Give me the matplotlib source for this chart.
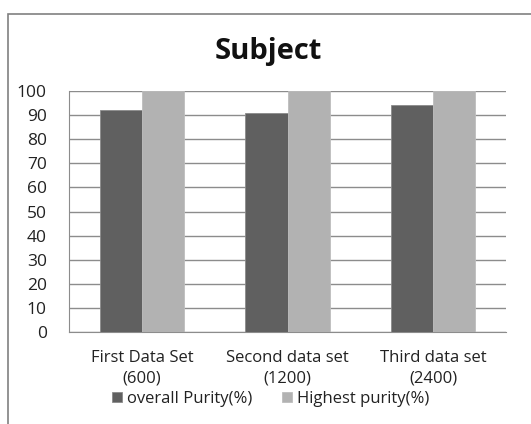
import matplotlib.pyplot as plt
import numpy as np
from matplotlib.patches import Rectangle

# Data
categories = ['First Data Set\n(600)', 'Second data set\n(1200)', 'Third data set\n(2400)']
overall_purity = [92, 91, 94]
highest_purity = [100, 100, 100]
series_names = ['overall Purity(%)', 'Highest purity(%)']

plt.rcParams['font.family'] = ['Open Sans', 'DejaVu Sans']

fig = plt.figure(figsize=(5.31, 4.24), dpi=100)
# outer chart frame (cropped on right and bottom like the reference)
fig.patches.append(Rectangle((8 / 531, -0.05), 1.1, 1 - 14 / 424 + 0.05,
                             transform=fig.transFigure, fill=False,
                             edgecolor='#808080', linewidth=1.2))

ax = fig.add_axes([69 / 531, 1 - 332 / 424, (506 - 69) / 531, (332 - 91) / 424])

x = np.arange(len(categories))
w = 0.29
ax.bar(x - w / 2, overall_purity, w, color='#606060', edgecolor='#8a8a8a',
       linewidth=0.6, label=series_names[0], zorder=3)
ax.bar(x + w / 2, highest_purity, w, color='#b2b2b2', edgecolor='#bdbdbd',
       linewidth=0.6, label=series_names[1], zorder=3)

ax.set_xlim(-0.5, len(categories) - 0.5)
ax.set_ylim(0, 100)
ax.set_yticks(range(0, 101, 10))
ax.set_xticks(x)
ax.set_xticklabels(categories, fontsize=12, color='#222222', linespacing=1.4)
ax.tick_params(axis='y', labelsize=12.5, labelcolor='#222222', length=0, pad=16)
ax.tick_params(axis='x', length=0, pad=13)
for lbl in ax.get_yticklabels():
    lbl.set_horizontalalignment('right')

ax.grid(axis='y', color='#8c8c8c', linewidth=1, zorder=0)
ax.spines['top'].set_visible(False)
ax.spines['right'].set_visible(False)
ax.spines['left'].set_color('#8c8c8c')
ax.spines['bottom'].set_color('#8c8c8c')

fig.text(0.505, 1 - 52 / 424, 'Subject', ha='center', va='center',
         fontsize=21, fontweight='bold', color='#111111')

fig.legend(loc='center', bbox_to_anchor=(0.51, 1 - 399 / 424), ncol=2,
           frameon=False, fontsize=12, handlelength=0.6, handleheight=0.6,
           handletextpad=0.3, columnspacing=1.8, labelcolor='#222222')

fig.savefig('out.png', dpi=100, facecolor='white')
